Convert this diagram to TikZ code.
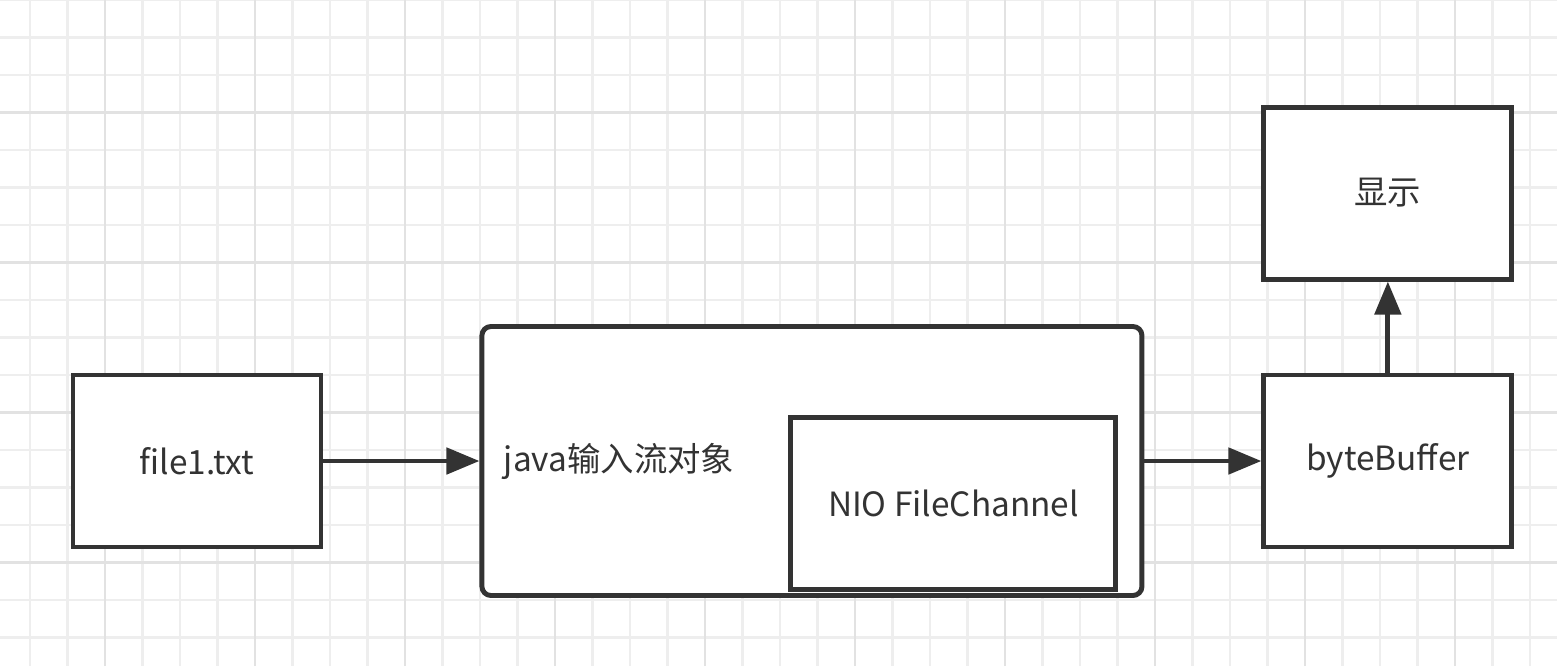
\documentclass[tikz,border=0pt]{standalone}
\usepackage{fontspec}
\setmainfont{Noto Sans CJK SC}
\usetikzlibrary{positioning,arrows.meta}
\usepackage{xcolor}
\definecolor{boxgray}{RGB}{51,51,51}
\definecolor{gridminor}{RGB}{238,238,238}
\definecolor{gridmajor}{RGB}{226,226,226}
\tikzset{
  flowbox/.style={draw=boxgray, line width=1.4pt, fill=white, align=center, minimum width=2.48cm, minimum height=1.72cm, font=\fontsize{9.5}{11}\selectfont, text=boxgray},
  groupbox/.style={draw=boxgray, line width=1.4pt, rounded corners=0.09cm, fill=white, minimum width=6.60cm, minimum height=2.69cm},
  arrow/.style={-{Triangle[length=3.3mm,width=2.6mm]}, line width=1.4pt, draw=boxgray}
}

\begin{document}
\begin{tikzpicture}[node distance=1.56cm and 1.56cm]
\useasboundingbox (0,0) rectangle (15.57,6.66);
% background grid
\foreach \i in {0,...,40}{\draw[gridminor, line width=0.8pt] ({0.3+0.375*\i},0) -- ++(0,6.66);}
\foreach \i in {0,...,17}{\draw[gridminor, line width=0.8pt] (0,{0.285+0.375*\i}) -- ++(15.57,0);}
\foreach \i in {0,...,9}{\draw[gridmajor, line width=0.8pt] ({1.05+1.5*\i},0) -- ++(0,6.66);}
\foreach \i in {0,...,3}{\draw[gridmajor, line width=0.8pt] (0,{1.035+1.5*\i}) -- ++(15.57,0);}
% boxes
\node[flowbox] (file) at (1.97,2.05) {file1.txt};
\node[groupbox, right=of file] (stream) {};
\node[flowbox, minimum width=3.25cm, anchor=south east] (channel) at ([xshift=-0.26cm,yshift=0.06cm]stream.south east) {NIO FileChannel};
\node[font=\fontsize{9.5}{11}\selectfont, text=boxgray, anchor=west] (streamlabel) at ([xshift=0.12cm]stream.west) {java输入流对象};
\node[flowbox, right=1.17cm of stream] (buffer) {byteBuffer};
\node[flowbox, above=0.91cm of buffer] (show) {显示};
\foreach \a/\b in {file/stream,stream/buffer,buffer/show}{\draw[arrow] (\a) -- (\b);}
\end{tikzpicture}
\end{document}
